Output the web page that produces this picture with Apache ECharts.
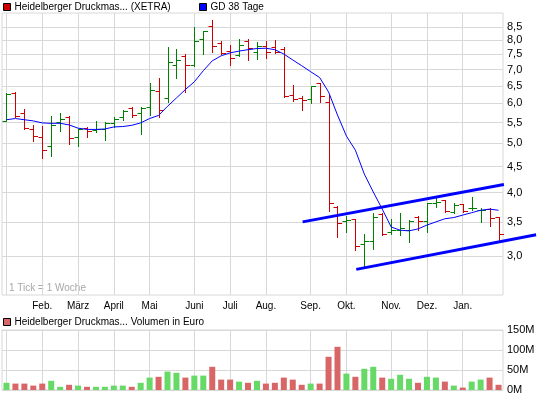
<!DOCTYPE html>
<html>
<head>
<meta charset="utf-8">
<script src="https://cdn.jsdelivr.net/npm/echarts@6/dist/echarts.min.js"></script>
<style>
    html, body { margin: 0; padding: 0; background: #fff; }
    #main { width: 545px; height: 398px; }
</style>
</head>
<body>
<div id="main"></div>
<script>
// Wochen-Index der Monatsanfänge (1 Tick = 1 Woche)
var monthTicks = [0, 4, 8, 12, 16, 21, 25, 29, 34, 38, 43, 47, 51];
var monthNames = ['', 'Feb.', 'März', 'April', 'Mai', 'Juni', 'Juli', 'Aug.', 'Sep.', 'Okt.', 'Nov.', 'Dez.', 'Jan.'];
var priceTicks = [3.0, 3.5, 4.0, 4.5, 5.0, 5.5, 6.0, 6.5, 7.0, 7.5, 8.0, 8.5];

var open = [5.54, 6.28, 5.73, 5.33, 5.14, 4.94, 5.52, 5.64, 5.16, 5.37,
    5.31, 5.33, 5.50, 5.63, 5.88, 5.73, 5.89, 6.34, 6.15, 7.15,
    7.45, 7.15, 8.04, 8.52, 7.89, 7.60, 7.48, 7.95, 7.57, 7.78,
    7.77, 7.68, 6.22, 6.15, 6.13, 6.57, 6.03, 3.75, 3.52, 3.54,
    3.17, 3.21, 3.63, 3.35, 3.38, 3.37, 3.58, 3.51, 3.82, 3.86,
    3.66, 3.79, 3.72, 3.69, 3.71, 3.58];
var high = [6.28, 6.32, 5.86, 5.44, 5.41, 5.66, 5.73, 5.66, 5.35, 5.40,
    5.54, 5.52, 5.63, 5.82, 5.91, 5.91, 6.58, 6.73, 7.75, 7.68,
    7.51, 8.49, 8.32, 8.77, 7.95, 7.81, 8.04, 8.04, 7.92, 7.95,
    8.00, 7.74, 6.51, 6.21, 6.50, 6.59, 6.25, 3.76, 3.60, 3.54,
    3.31, 3.64, 3.64, 3.54, 3.64, 3.53, 3.59, 3.81, 3.90, 3.87,
    3.81, 3.80, 3.92, 3.72, 3.72, 3.58];
var low = [5.54, 5.63, 5.33, 5.06, 4.69, 4.73, 5.29, 4.98, 4.94, 5.16,
    5.26, 5.08, 5.39, 5.56, 5.65, 5.21, 5.69, 5.63, 6.03, 6.73,
    6.33, 7.10, 7.52, 7.57, 7.52, 7.15, 7.45, 7.32, 7.34, 7.37,
    7.53, 6.17, 6.07, 5.81, 6.00, 6.04, 3.68, 3.27, 3.35, 3.08,
    2.87, 3.10, 3.30, 3.31, 3.30, 3.20, 3.37, 3.35, 3.74, 3.66,
    3.64, 3.66, 3.69, 3.50, 3.43, 3.23];
var close = [6.25, 5.67, 5.37, 5.17, 4.85, 5.43, 5.59, 5.12, 5.34, 5.29,
    5.33, 5.50, 5.60, 5.80, 5.70, 5.88, 6.37, 5.81, 7.23, 7.30,
    7.15, 7.95, 8.32, 7.78, 7.54, 7.37, 7.83, 7.72, 7.78, 7.57,
    7.58, 6.20, 6.13, 6.08, 6.50, 6.21, 3.82, 3.49, 3.53, 3.14,
    3.21, 3.58, 3.31, 3.37, 3.40, 3.52, 3.51, 3.81, 3.84, 3.68,
    3.78, 3.68, 3.73, 3.70, 3.56, 3.32];
// GD 38 Tage
var gd38 = [5.57, 5.60, 5.57, 5.54, 5.49, 5.48, 5.48, 5.44, 5.36, 5.33,
    5.33, 5.34, 5.39, 5.40, 5.43, 5.49, 5.60, 5.68, 5.92, 6.15,
    6.39, 6.62, 6.96, 7.28, 7.45, 7.55, 7.61, 7.66, 7.70, 7.71,
    7.66, 7.51, 7.31, 7.12, 6.93, 6.75, 6.32, 5.69, 5.17, 4.85,
    4.35, 4.01, 3.71, 3.42, 3.37, 3.36, 3.39, 3.45, 3.50, 3.55,
    3.57, 3.61, 3.65, 3.69, 3.71, 3.69];
// Volumen in Mio. Euro
var volume = [18, 16, 16, 11, 16, 23, 8, 13, 11, 8,
    8, 8, 11, 11, 8, 18, 31, 33, 46, 43,
    31, 36, 36, 58, 26, 26, 21, 18, 23, 16,
    18, 31, 26, 13, 16, 16, 83, 108, 41, 33,
    53, 58, 31, 28, 38, 28, 18, 33, 31, 21,
    11, 6, 21, 26, 31, 13];
// Trendkanal [Woche, Kurs]
var trendUpper = [[33.1, 3.50], [55.6, 4.15]];
var trendLower = [[39.1, 2.82], [59.2, 3.30]];

var UP = '#008000', DOWN = '#cc0000';
var VOL_UP = '#66d966', VOL_DOWN = '#d96666';
var GRID = '#d8d8d8';
var FONT = 'Liberation Sans';

var ohlcData = [];
var volData = [];
for (var i = 0; i < open.length; i++) {
    ohlcData.push([i, open[i], high[i], low[i], close[i]]);
    volData.push({
        value: [i, volume[i]],
        itemStyle: {color: close[i] >= open[i] ? VOL_UP : VOL_DOWN}
    });
}

function renderOhlc(params, api) {
    var x = api.value(0);
    var o = api.coord([x, api.value(1)]);
    var h = api.coord([x, api.value(2)]);
    var l = api.coord([x, api.value(3)]);
    var c = api.coord([x, api.value(4)]);
    var px = Math.round(o[0]) + 0.5;
    var oy = Math.round(o[1]) + 0.5;
    var cy = Math.round(c[1]) + 0.5;
    var st = {stroke: api.value(4) >= api.value(1) ? UP : DOWN, lineWidth: 1};
    return {
        type: 'group',
        children: [
            {type: 'line', shape: {x1: px, y1: Math.round(h[1]), x2: px, y2: Math.round(l[1]) + 1}, style: st},
            {type: 'line', shape: {x1: px - 4, y1: oy, x2: px, y2: oy}, style: st},
            {type: 'line', shape: {x1: px, y1: cy, x2: px + 4.5, y2: cy}, style: st}
        ]
    };
}

var name1 = 'Heidelberger Druckmas... (XETRA)';
var name2 = 'GD 38 Tage';
var name3 = 'Heidelberger Druckmas... Volumen in Euro';

var legendBase = {
    padding: 0, itemWidth: 7, itemHeight: 7, icon: 'rect',
    itemStyle: {borderColor: '#000', borderWidth: 1},
    textStyle: {fontSize: 10, color: '#000', fontFamily: FONT, padding: [0, 0, 0, -1]},
    selectedMode: false
};

// Breite des Plotbereichs und eine breitere Ebene für den Trendkanal
var plotLeft = 2, plotWidth = 501, weeks = 56, trendWidth = 539;

var myChart = echarts.init(document.getElementById('main'), null, {renderer: 'canvas'});
var option = {
    animation: false,
    textStyle: {fontFamily: FONT},
    legend: [
        echarts.util.extend({data: [name1], left: 3, top: 2}, legendBase),
        echarts.util.extend({data: [name2], left: 199, top: 2}, legendBase),
        echarts.util.extend({data: [name3], left: 3, top: 317}, legendBase)
    ],
    graphic: [{
        type: 'text', left: 9, top: 283,
        style: {text: '1 Tick = 1 Woche', fill: '#a8a8a8', font: '10px "Liberation Sans"'}
    }],
    grid: [
        {left: plotLeft, top: 13, width: plotWidth, height: 282, show: true, borderColor: GRID, borderWidth: 1},
        {left: plotLeft, top: 330, width: plotWidth, height: 60, show: true, borderColor: GRID, borderWidth: 1},
        {left: plotLeft, top: 13, width: trendWidth, height: 282, show: false}
    ],
    xAxis: [
        {
            type: 'value', gridIndex: 0, min: -0.5, max: weeks - 0.5,
            axisLine: {show: false},
            axisTick: {show: false, customValues: monthTicks},
            splitLine: {show: true, lineStyle: {color: GRID, width: 1}},
            axisLabel: {
                customValues: monthTicks, fontSize: 10, color: '#000', margin: 6,
                formatter: function (v) {
                    return monthNames[monthTicks.indexOf(v)] || '';
                }
            }
        },
        {
            type: 'value', gridIndex: 1, min: -0.5, max: weeks - 0.5,
            axisLine: {show: false},
            axisTick: {show: false, customValues: monthTicks},
            splitLine: {show: true, lineStyle: {color: GRID, width: 1}},
            axisLabel: {show: false}
        },
        {
            type: 'value', gridIndex: 2, min: -0.5, max: -0.5 + weeks * trendWidth / plotWidth,
            show: false
        }
    ],
    yAxis: [
        {
            type: 'log', gridIndex: 0, position: 'right', min: 2.51, max: 9.05,
            axisLine: {show: false},
            axisTick: {show: false, customValues: priceTicks},
            splitLine: {show: true, lineStyle: {color: GRID, width: 1}},
            axisLabel: {
                customValues: priceTicks, fontSize: 11, color: '#000', margin: 4,
                formatter: function (v) {
                    return v.toFixed(1).replace('.', ',');
                }
            }
        },
        {
            type: 'value', gridIndex: 1, position: 'right', min: 0, max: 150, interval: 50,
            axisLine: {show: false},
            axisTick: {show: false},
            splitLine: {show: true, lineStyle: {color: GRID, width: 1}},
            axisLabel: {
                fontSize: 11, color: '#000', margin: 4,
                formatter: function (v) {
                    return v + 'M';
                }
            }
        },
        {
            type: 'log', gridIndex: 2, min: 2.51, max: 9.05, show: false
        }
    ],
    series: [
        {
            name: name1, type: 'custom', xAxisIndex: 0, yAxisIndex: 0,
            renderItem: renderOhlc, data: ohlcData,
            encode: {x: 0, y: [1, 2, 3, 4]},
            itemStyle: {color: DOWN}, z: 3
        },
        {
            name: name2, type: 'line', xAxisIndex: 0, yAxisIndex: 0,
            data: gd38.map(function (v, i) { return [i, v]; }),
            showSymbol: false, symbol: 'none',
            lineStyle: {color: '#0000ff', width: 1},
            itemStyle: {color: '#0000ff'}, z: 4
        },
        {
            type: 'line', xAxisIndex: 2, yAxisIndex: 2, data: trendUpper,
            symbol: 'none', silent: true,
            lineStyle: {color: '#0000ff', width: 3}, z: 5
        },
        {
            type: 'line', xAxisIndex: 2, yAxisIndex: 2, data: trendLower,
            symbol: 'none', silent: true,
            lineStyle: {color: '#0000ff', width: 3}, z: 5
        },
        {
            name: name3, type: 'bar', xAxisIndex: 1, yAxisIndex: 1,
            barWidth: 6, data: volData,
            itemStyle: {color: VOL_DOWN}
        }
    ]
};
myChart.setOption(option);
</script>
</body>
</html>
